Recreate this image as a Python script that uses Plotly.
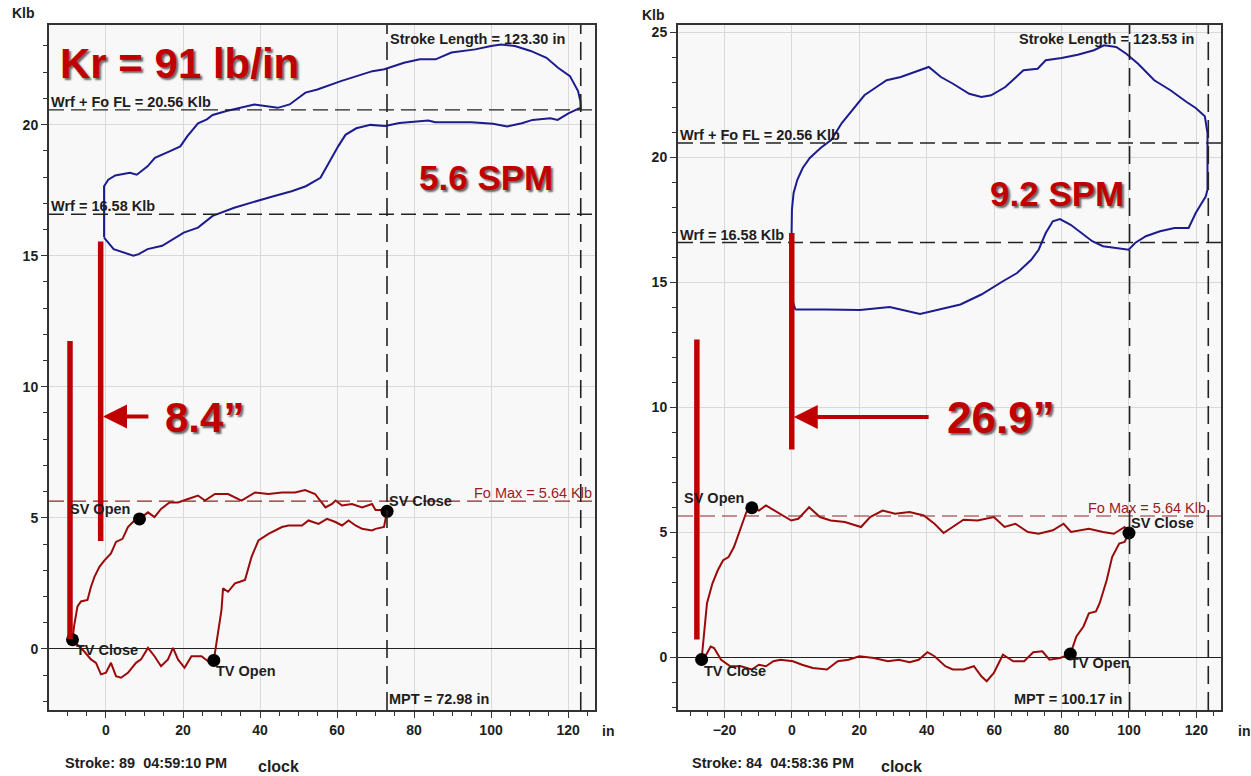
import plotly.graph_objects as go

# ---------------- data ----------------
# Left card (Stroke 89) - surface (blue) card
LB_UP_X = [-0.5, -0.5, 0.6, 2.4, 6.2, 8.0, 10.8, 12.7, 16.5, 19.3, 21.1, 23.9, 26.2, 27.7, 31.3, 38.5, 44.6, 47.7, 51.8, 54.9, 61.0, 65.1, 69.2, 72.3, 77.4, 81.5, 85.6, 89.7, 95.9, 100.0, 102.6, 106.2, 110.3, 114.4, 117.4, 120.5, 121.5, 122.6, 123.2, 123.3]
LB_UP_Y = [15.7, 17.65, 17.9, 18.06, 18.16, 18.09, 18.41, 18.73, 18.98, 19.17, 19.55, 20.05, 20.2, 20.37, 20.52, 20.77, 20.64, 20.77, 21.22, 21.34, 21.66, 21.85, 22.04, 22.11, 22.36, 22.49, 22.49, 22.75, 22.87, 23.0, 23.06, 23.0, 22.81, 22.55, 22.17, 21.85, 21.6, 21.28, 20.9, 20.6]
LB_DN_X = [122.9, 120.1, 117.3, 115.4, 110.8, 108.0, 104.2, 100.5, 94.9, 85.5, 83.7, 76.2, 72.5, 68.7, 65.0, 62.2, 60.3, 57.5, 55.7, 51.9, 48.2, 43.5, 38.9, 33.3, 27.7, 23.9, 20.2, 14.6, 10.8, 8.5, 7.1, 2.0, -0.5]
LB_DN_Y = [20.62, 20.43, 20.18, 20.24, 20.18, 20.05, 19.93, 20.03, 20.09, 20.09, 20.16, 20.06, 19.95, 19.99, 19.86, 19.61, 19.17, 18.41, 17.97, 17.65, 17.46, 17.27, 17.08, 16.83, 16.52, 16.07, 15.88, 15.38, 15.25, 15.06, 15.0, 15.25, 15.69]

# Left card - pump (red) card
LR_UP_X = [-8.7, -8.3, -7.4, -6.5, -4.8, -3.9, -3.0, -1.7, -0.4, 1.3, 2.6, 4.3, 5.7, 7.4, 8.7, 10.9, 12.6, 14.3, 16.5, 18.7, 21.3, 23.9, 25.7, 28.3, 31.7, 35.2, 38.7, 42.2, 45.7, 49.1, 51.7, 54.3, 57.0, 58.7, 59.6, 61.3, 63.9, 66.5, 69.1, 70.0, 71.7, 73.0]
LR_UP_Y = [0.35, 0.86, 1.62, 1.81, 1.87, 2.37, 2.75, 3.13, 3.38, 3.64, 4.08, 4.2, 4.65, 4.9, 4.96, 5.21, 5.03, 5.34, 5.59, 5.59, 5.72, 5.85, 5.66, 5.91, 5.91, 5.66, 5.97, 5.91, 5.97, 5.97, 6.06, 5.91, 5.4, 5.53, 5.66, 5.47, 5.53, 5.4, 5.53, 5.3, 5.3, 5.25]
LR_DN_X = [73.0, 72.2, 70.0, 69.1, 66.5, 64.8, 63.0, 61.3, 59.6, 57.4, 55.2, 52.6, 50.9, 47.4, 45.7, 42.2, 39.6, 37.8, 36.1, 34.8, 33.5, 31.7, 30.4, 30.0, 29.1, 28.0]
LR_DN_Y = [5.25, 4.65, 4.58, 4.52, 4.58, 4.71, 4.9, 4.71, 4.84, 4.96, 4.77, 4.9, 4.71, 4.71, 4.65, 4.39, 4.14, 3.51, 2.63, 2.56, 2.5, 2.18, 2.31, 1.49, 0.61, -0.44]
LR_BT_X = [28.0, 26.5, 24.8, 22.2, 20.4, 18.7, 17.4, 16.1, 14.3, 12.6, 10.9, 9.1, 7.8, 5.7, 3.9, 2.6, 1.3, 0.0, -1.3, -2.6, -3.9, -5.7, -7.0, -8.7]
LR_BT_Y = [-0.44, -0.47, -0.28, -0.28, -0.72, -0.4, 0.04, -0.4, -0.66, -0.28, 0.04, -0.4, -0.53, -0.91, -1.1, -1.04, -0.53, -0.91, -0.97, -0.53, -0.4, -0.09, 0.1, 0.35]

# Right card (Stroke 84) - surface (blue) card
RB_LF_X = [1.0, 0.1, -0.2, 0.0, 0.5, 1.6, 3.2, 5.3, 8.5, 11.7, 14.8]
RB_LF_Y = [13.9, 14.3, 16.0, 17.9, 18.56, 19.09, 19.56, 19.96, 20.36, 20.69, 21.36]
RB_TP_X = [18.0, 21.5, 25.1, 28.1, 32.3, 37.0, 40.6, 44.2, 47.8, 52.6, 56.2, 59.1, 63.3, 68.7, 72.9, 75.3, 80.0, 84.8, 89.6, 92.6, 96.2, 99.2, 102.7, 107.5, 112.3, 117.1, 119.8, 122.5, 123.3]
RB_TP_Y = [21.9, 22.47, 22.8, 23.07, 23.2, 23.43, 23.6, 23.2, 22.93, 22.53, 22.4, 22.47, 22.8, 23.47, 23.53, 23.87, 23.96, 24.09, 24.27, 24.47, 24.4, 24.13, 23.73, 23.07, 22.67, 22.2, 21.96, 21.63, 20.96]
RB_BT_X = [123.3, 122.8, 119.8, 117.7, 113.5, 109.2, 105.0, 101.8, 99.9, 95.4, 92.3, 89.1, 85.9, 82.7, 79.5, 77.4, 75.3, 73.2, 71.0, 66.8, 62.6, 56.2, 50.0, 44.0, 38.0, 29.0, 20.2, 10.0, 3.9, 1.0]
RB_BT_Y = [18.7, 18.43, 17.76, 17.16, 17.16, 17.03, 16.83, 16.56, 16.29, 16.36, 16.43, 16.63, 16.96, 17.29, 17.52, 17.43, 16.96, 16.29, 15.89, 15.36, 15.03, 14.5, 14.1, 13.9, 13.72, 14.0, 13.88, 13.9, 13.88, 13.9]

# Right card - pump (red) card
RR_UP_X = [-26.8, -26.3, -25.2, -23.6, -22.0, -20.4, -18.8, -17.2, -15.1, -13.5, -11.9]
RR_UP_Y = [-0.1, 0.56, 2.15, 2.94, 3.47, 3.87, 4.0, 4.4, 5.2, 5.8, 5.97]
RR_TP_X = [-11.9, -9.8, -7.7, -4.5, -0.2, 1.9, 5.1, 8.3, 11.5, 15.7, 20.5, 23.2, 26.9, 30.6, 34.9, 39.1, 42.3, 45.0, 47.7, 50.9, 55.1, 59.9, 63.1, 66.3, 70.0, 73.2, 77.4, 80.6, 82.8, 88.1, 92.3, 95.5, 98.7, 100.0]
RR_TP_Y = [5.97, 5.86, 6.06, 5.8, 5.46, 5.53, 5.99, 5.6, 5.46, 5.4, 5.2, 5.6, 5.86, 5.73, 5.8, 5.66, 5.33, 4.96, 5.2, 5.49, 5.46, 5.6, 5.2, 5.33, 5.0, 4.93, 5.07, 5.33, 5.0, 5.13, 5.0, 4.93, 5.2, 4.96]
RR_DN_X = [100.0, 98.7, 97.1, 95.0, 93.4, 91.3, 90.2, 88.1, 86.5, 84.4, 82.6]
RR_DN_Y = [4.96, 4.6, 4.54, 4.0, 3.08, 2.15, 1.82, 1.75, 1.22, 0.82, 0.12]
RR_BT_X = [82.6, 79.6, 76.4, 74.3, 71.6, 68.9, 65.7, 62.6, 59.9, 57.8, 56.2, 54.0, 50.9, 47.7, 45.5, 42.3, 40.2, 37.6, 34.9, 31.7, 28.5, 24.3, 20.0, 16.8, 13.6, 10.4, 6.2, 3.0, 0.3, -3.4, -5.5, -7.7, -9.8, -11.9, -15.1, -18.3, -21.0, -23.1, -24.1, -25.7, -26.8]
RR_BT_Y = [0.12, -0.04, -0.11, 0.23, 0.19, -0.17, -0.17, 0.09, -0.64, -0.97, -0.77, -0.37, -0.5, -0.5, -0.37, 0.03, 0.19, -0.11, -0.21, -0.11, -0.17, -0.04, 0.03, -0.11, -0.17, -0.5, -0.44, -0.31, -0.17, -0.11, -0.17, -0.37, -0.31, -0.5, -0.37, -0.37, -0.11, 0.36, 0.42, 0.03, -0.1]

# Valve event markers
EVENT_LABELS = ["TV Close", "SV Open", "SV Close", "TV Open"]
L_EVENT_X = [-8.7, 8.7, 73.0, 28.0]
L_EVENT_Y = [0.35, 4.96, 5.25, -0.44]
R_EVENT_X = [-26.8, -11.9, 100.0, 82.6]
R_EVENT_Y = [-0.1, 5.97, 4.96, 0.12]

# Reference values
WRF = 16.58
WRF_FO_FL = 20.56
FO_MAX = 5.64
L_MPT, L_STROKE = 72.98, 123.30
R_MPT, R_STROKE = 100.17, 123.53

# Annotation markup values (red measurement lines)
L_BAR1 = (-9.35, 0.38, 11.75)
L_BAR2 = (-1.38, 4.12, 15.54)
L_ARROW = (11.4, 8.87)
R_BAR1 = (-28.2, 0.7, 12.7)
R_BAR2 = (-0.05, 8.3, 16.96)
R_ARROW = (41.0, 9.6)

# ---------------- figure ----------------
W, H = 1251, 776
BLUE = "#1c1c8e"
PUMP = "#9b0a0a"
MARK = "#c00000"
TXT = "#1e1e1e"
FONT = "Liberation Sans"

def px(v, total):
    return v / total

LX = [px(49, W), px(595, W)]
RX = [px(678, W), px(1221, W)]
YD = [1 - 710 / H, 1 - 25 / H]

fig = go.Figure()

def line_trace(xs, ys, color, xa, ya, width=2):
    fig.add_trace(go.Scatter(x=xs, y=ys, mode="lines", line=dict(color=color, width=width),
                             xaxis=xa, yaxis=ya, showlegend=False, hoverinfo="skip"))

line_trace(LB_UP_X + LB_DN_X, LB_UP_Y + LB_DN_Y, BLUE, "x", "y")
line_trace(LR_UP_X + LR_DN_X + LR_BT_X, LR_UP_Y + LR_DN_Y + LR_BT_Y, PUMP, "x", "y")
line_trace(RB_LF_X + RB_TP_X + RB_BT_X, RB_LF_Y + RB_TP_Y + RB_BT_Y, BLUE, "x2", "y2")
line_trace(RR_UP_X + RR_TP_X + RR_DN_X + RR_BT_X, RR_UP_Y + RR_TP_Y + RR_DN_Y + RR_BT_Y, PUMP, "x2", "y2")

for ex, ey, xa, ya in [(L_EVENT_X, L_EVENT_Y, "x", "y"), (R_EVENT_X, R_EVENT_Y, "x2", "y2")]:
    fig.add_trace(go.Scatter(x=ex, y=ey, mode="markers", marker=dict(color="black", size=13),
                             xaxis=xa, yaxis=ya, showlegend=False, hoverinfo="skip"))

shapes = []
annotations = []
lab_font = dict(family=FONT, size=14.5, color=TXT, weight="bold")
FO_COLOR = "#8e2424"

def ref_lines(xr, yr, mpt, stroke):
    xd = "x domain" if xr == "x" else "x2 domain"
    yd = "y domain" if yr == "y" else "y2 domain"
    for yv in (WRF, WRF_FO_FL):
        shapes.append(dict(type="line", xref=xd, yref=yr, x0=0, x1=1, y0=yv, y1=yv,
                           line=dict(color="#222", width=1.3, dash="15px,7px")))
    shapes.append(dict(type="line", xref=xd, yref=yr, x0=0, x1=1, y0=FO_MAX, y1=FO_MAX,
                       line=dict(color=FO_COLOR, width=1.2, dash="15px,7px")))
    for xv in (mpt, stroke):
        shapes.append(dict(type="line", xref=xr, yref=yd, x0=xv, x1=xv, y0=0, y1=1,
                           line=dict(color="#222", width=1.6, dash="18px,8px")))
    annotations.append(dict(xref=xd, yref=yr, x=0, y=WRF_FO_FL, text="Wrf + Fo FL = 20.56 Klb",
                            showarrow=False, xanchor="left", yanchor="bottom", font=lab_font, yshift=-2))
    annotations.append(dict(xref=xd, yref=yr, x=0, y=WRF, text="Wrf = 16.58 Klb",
                            showarrow=False, xanchor="left", yanchor="bottom", font=lab_font, yshift=-2))

ref_lines("x", "y", L_MPT, L_STROKE)
ref_lines("x2", "y2", R_MPT, R_STROKE)

fo_font = dict(family=FONT, size=14.5, color="#9a1c1c")
annotations += [
    dict(xref="x", yref="y domain", x=L_STROKE, y=1, text="Stroke Length = 123.30 in", showarrow=False,
         xanchor="right", yanchor="top", xshift=-14, yshift=-4, font=lab_font),
    dict(xref="x2", yref="y2 domain", x=R_STROKE, y=1, text="Stroke Length = 123.53 in", showarrow=False,
         xanchor="right", yanchor="top", xshift=-12, yshift=-4, font=lab_font),
    dict(xref="x", yref="y domain", x=L_MPT, y=0, text="MPT = 72.98 in", showarrow=False,
         xanchor="left", yanchor="bottom", xshift=0, yshift=1, font=lab_font),
    dict(xref="x2", yref="y2 domain", x=R_MPT, y=0, text="MPT = 100.17 in", showarrow=False,
         xanchor="right", yanchor="bottom", xshift=-6, yshift=1, font=lab_font),
    dict(xref="x domain", yref="y", x=1, y=FO_MAX, text="Fo Max = 5.64 Klb", showarrow=False,
         xanchor="right", yanchor="bottom", xshift=-1, yshift=-2, font=fo_font),
    dict(xref="x2", yref="y2", x=R_STROKE, y=FO_MAX, text="Fo Max = 5.64 Klb", showarrow=False,
         xanchor="right", yanchor="bottom", xshift=0, yshift=-2, font=fo_font),
]

# event labels
L_OFFS = [("left", 2, -10), ("right", -7, 10), ("left", 0, 10), ("left", 0, -11)]
R_OFFS = [("left", 0, -11), ("right", -6, 10), ("left", 0, 10), ("left", -2, -9)]
for ex, ey, offs, xr, yr in [(L_EVENT_X, L_EVENT_Y, L_OFFS, "x", "y"), (R_EVENT_X, R_EVENT_Y, R_OFFS, "x2", "y2")]:
    for lab, xv, yv, (anc, dx, dy) in zip(EVENT_LABELS, ex, ey, offs):
        annotations.append(dict(xref=xr, yref=yr, x=xv, y=yv, text=lab, showarrow=False,
                                xanchor=anc, yanchor="middle", xshift=dx, yshift=dy, font=lab_font))

# red measurement markup
for (bx, b0, b1), xr, yr in [(L_BAR1, "x", "y"), (L_BAR2, "x", "y"), (R_BAR1, "x2", "y2"), (R_BAR2, "x2", "y2")]:
    shapes.append(dict(type="line", xref=xr, yref=yr, x0=bx, x1=bx, y0=b0, y1=b1,
                       line=dict(color=MARK, width=5.5)))
for (tail, ay), (bx, _, _), xr, yr in [(L_ARROW, L_BAR2, "x", "y"), (R_ARROW, R_BAR2, "x2", "y2")]:
    annotations.append(dict(xref=xr, yref=yr, axref=xr, ayref=yr, x=bx + 0.6, y=ay, ax=tail, ay=ay,
                            text="", showarrow=True, arrowhead=2, arrowsize=1.2, arrowwidth=4,
                            arrowcolor=MARK, standoff=0))

big = dict(family=FONT, color=MARK, weight="bold", shadow="2px 2px 2px #666")
annotations += [
    dict(xref="x", yref="y", x=14.8, y=8.82, text="8.4\u201d", showarrow=False, xanchor="left",
         font=dict(big, size=42)),
    dict(xref="x2", yref="y2", x=45.4, y=9.6, text="26.9\u201d", showarrow=False, xanchor="left",
         font=dict(big, size=44)),
    dict(xref="paper", yref="paper", x=px(58, W), y=1 - 63 / H, text="Kr = 91 lb/in", showarrow=False,
         xanchor="left", yanchor="middle", font=dict(big, size=42)),
    dict(xref="x", yref="y", x=80.9, y=18.0, text="5.6 SPM", showarrow=False, xanchor="left",
         font=dict(big, size=35)),
    dict(xref="x2", yref="y2", x=58.3, y=18.56, text="9.2 SPM", showarrow=False, xanchor="left",
         font=dict(big, size=35)),
]

# outside texts
small_b = dict(family=FONT, size=14, color=TXT, weight="bold")
for xp, yp, t, f in [
    (10, 13, "Klb", small_b), (640, 15, "Klb", small_b),
    (600, 731, "in", small_b), (1236, 731, "in", small_b),
    (63, 763, "Stroke: 89  04:59:10 PM", dict(small_b, size=14.5)),
    (256, 766, "clock", dict(small_b, size=16)),
    (690, 763, "Stroke: 84  04:58:36 PM", dict(small_b, size=14.5)),
    (879, 766, "clock", dict(small_b, size=16)),
]:
    annotations.append(dict(xref="paper", yref="paper", x=px(xp, W), y=1 - yp / H, text=t,
                            showarrow=False, xanchor="left", yanchor="middle", font=f))

axis_common = dict(showline=True, mirror=True, linecolor="#333", linewidth=2, ticks="outside",
                   ticklen=6, tickwidth=1.3, tickcolor="#333", gridcolor="#d9d9d9", gridwidth=1,
                   tickfont=dict(family=FONT, size=14, color=TXT, weight="bold"), showgrid=True)

fig.update_layout(
    width=W, height=H, margin=dict(l=0, r=0, t=0, b=0),
    paper_bgcolor="white", plot_bgcolor="#f8f8f8",
    shapes=shapes, annotations=annotations,
    xaxis=dict(axis_common, domain=LX, range=[-14.8, 127.0], tickvals=[0, 20, 40, 60, 80, 100, 120],
               zeroline=False, anchor="y", minor=dict(dtick=5, ticks="outside", ticklen=4, tickcolor="#333", showgrid=False)),
    yaxis=dict(axis_common, domain=YD, range=[-2.33, 23.8], tickvals=[0, 5, 10, 15, 20],
               zeroline=True, zerolinecolor="#222", zerolinewidth=1.4, anchor="x",
               minor=dict(dtick=1, ticks="outside", ticklen=4, tickcolor="#333", showgrid=False)),
    xaxis2=dict(axis_common, domain=RX, range=[-33.8, 127.3], tickvals=[-20, 0, 20, 40, 60, 80, 100, 120],
                zeroline=False, anchor="y2", minor=dict(dtick=5, ticks="outside", ticklen=4, tickcolor="#333", showgrid=False)),
    yaxis2=dict(axis_common, domain=YD, range=[-2.12, 25.28], tickvals=[0, 5, 10, 15, 20, 25],
                zeroline=True, zerolinecolor="#222", zerolinewidth=1.4, anchor="x2",
                minor=dict(dtick=1, ticks="outside", ticklen=4, tickcolor="#333", showgrid=False)),
)

fig.write_html("out.html")
